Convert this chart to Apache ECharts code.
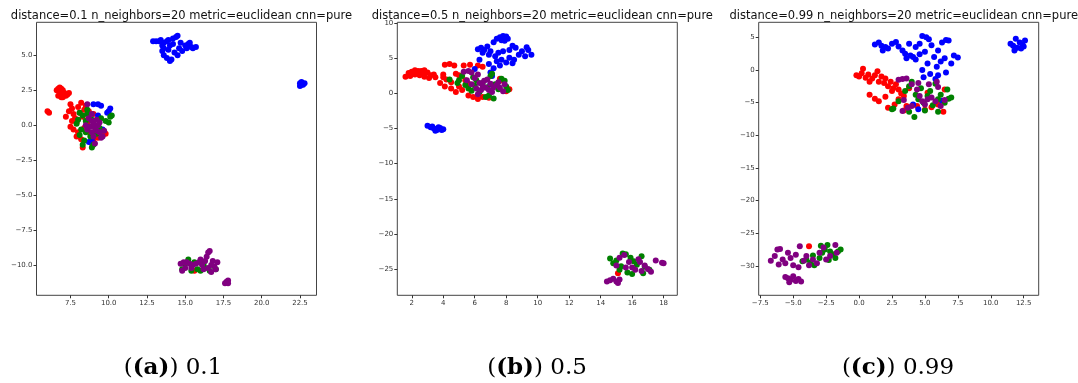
<!DOCTYPE html>
<html><head><meta charset="utf-8">
<script src="https://cdn.jsdelivr.net/npm/echarts@6/dist/echarts.min.js"></script>
<style>html,body{margin:0;padding:0;background:#fff}#c{width:1078px;height:383px}</style>
</head><body><div id="c"></div>
<script>
// ---------- Titles & captions ----------
const titles = [
  "distance=0.1 n_neighbors=20 metric=euclidean cnn=pure",
  "distance=0.5 n_neighbors=20 metric=euclidean cnn=pure",
  "distance=0.99 n_neighbors=20 metric=euclidean cnn=pure"
];
const captionLetters = ["(a)", "(b)", "(c)"];
const captionValues = ["0.1", "0.5", "0.99"];

// ---------- Tick labels ----------
const aXTicks = [7.5, 10.0, 12.5, 15.0, 17.5, 20.0, 22.5];
const aYTicks = [5.0, 2.5, 0.0, -2.5, -5.0, -7.5, -10.0];
const bXTicks = [2, 4, 6, 8, 10, 12, 14, 16, 18];
const bYTicks = [10, 5, 0, -5, -10, -15, -20, -25];
const cXTicks = [-7.5, -5.0, -2.5, 0.0, 2.5, 5.0, 7.5, 10.0, 12.5];
const cYTicks = [5, 0, -5, -10, -15, -20, -25, -30];

// ---------- Series colours ----------
const classNames = ["red", "blue", "green", "purple"];
const classColors = ["#ff0000", "#0000ff", "#008000", "#800080"];

// ---------- (a) distance = 0.1 ----------
const aRed = [[6.7,2.6],[6.8,2.7],[6.9,2.6],[7.0,2.5],[6.8,2.4],[7.1,2.3],[6.9,2.2],[7.2,2.1],[6.7,2.1],[7.0,2.0],[7.3,2.2],[6.6,2.5],[7.4,2.3],[6.9,2.0],
  [6.0,1.0],[6.1,0.9],
  [7.5,1.5],[7.6,1.2],[7.4,1.0],[7.7,0.8],[7.8,0.5],[7.6,0.3],[7.9,0.2],[7.5,-0.1],[7.7,-0.3],[8.0,-0.5],[7.9,-0.8],[8.2,-1.0],[8.3,-1.6],[8.1,0.9],[8.4,1.1],[8.2,1.6],[8.5,1.4],[8.3,0.6],[8.6,0.2],[8.4,-0.2],[8.8,-0.6],[9.0,-1.0],[9.3,-0.9],[9.6,-0.7],[9.8,-0.6],[8.7,1.0],[9.0,0.8],[7.2,0.6],[8.0,1.3],[8.9,-1.3],
  [15.6,-10.4]];
const aBlue = [[9.0,1.5],[9.3,1.5],[9.5,1.4],[10.0,1.0],[10.1,1.2],[9.9,0.9],[9.3,0.7],[8.9,-1.1],[8.7,-1.2],[9.6,-0.3],
  [12.9,6.0],[13.1,6.0],[13.3,6.0],[13.4,6.1],[13.6,5.9],[13.8,6.0],[13.9,6.1],[14.2,6.2],[14.4,6.3],[14.5,6.4],[13.5,5.7],[13.6,5.5],[13.5,5.3],[13.6,5.0],[13.8,4.8],[14.0,4.6],[14.1,4.7],[13.9,5.4],[14.0,5.7],[14.3,5.2],[14.5,5.0],[14.6,5.5],[14.2,5.8],[14.7,5.9],[15.0,5.7],[15.2,5.8],[15.4,5.6],[15.5,5.5],[15.7,5.6],[15.1,5.5],[14.8,5.3],[15.3,5.9],
  [22.5,3.0],[22.6,2.9],[22.7,2.9],[22.5,2.8],[22.8,3.0],[22.6,3.1]];
const aGreen = [[8.1,0.9],[8.3,0.7],[8.6,0.8],[8.0,0.4],[8.5,0.3],[8.2,-0.3],[8.7,-0.1],[8.1,-0.7],[8.5,-0.5],[8.4,-1.1],[8.3,-1.4],[8.9,-1.6],[9.0,-1.4],[9.2,-0.6],[9.5,0.5],[9.8,0.3],[10.1,0.6],[10.2,0.7],[10.0,0.2],[9.4,-0.2],[8.9,0.4],[8.8,-0.8],[7.9,0.1],[8.6,1.1],
  [14.8,-10.3],[15.0,-9.9],[15.2,-9.6],[15.4,-10.4],[15.8,-10.3],[16.0,-10.4],[16.3,-10.2],[16.6,-10.4],[17.0,-10.3],[15.6,-9.8],[16.2,-9.9]];
const aPurple = [[8.6,1.5],[8.9,0.8],[8.7,0.5],[8.9,0.3],[9.0,0.1],[8.8,-0.1],[9.1,-0.2],[9.2,-0.4],[8.9,-0.5],[9.3,0.0],[9.4,-0.5],[9.0,-0.8],[9.6,-0.8],[9.7,-0.4],[8.6,-0.3],[9.1,-1.3],[9.2,0.4],[8.5,0.0],[9.5,-0.9],[9.4,0.2],
  [14.7,-9.9],[14.9,-9.8],[15.1,-9.8],[15.3,-9.9],[15.5,-10.0],[15.7,-9.9],[15.9,-9.8],[16.1,-10.0],[16.3,-9.7],[16.4,-9.4],[16.5,-9.1],[16.6,-9.0],[16.5,-10.2],[16.7,-10.0],[16.9,-10.1],[17.1,-9.8],[17.0,-10.3],[16.7,-10.5],[16.2,-10.3],[15.0,-10.2],[14.8,-10.4],[15.4,-10.2],[16.0,-9.6],[16.8,-9.7],
  [17.7,-11.2],[17.8,-11.1],[17.6,-11.3],[17.8,-11.3]];

// ---------- (b) distance = 0.5 ----------
const bRed = [[1.6,2.4],[1.8,2.9],[2.0,3.1],[2.2,3.3],[2.4,3.2],[2.6,3.2],[2.8,3.3],[3.0,3.0],[3.2,2.6],[3.1,2.2],[2.8,2.4],[2.5,2.6],[2.2,2.7],[1.9,2.5],[2.3,2.9],[2.7,2.9],
  [4.0,2.7],[4.0,2.3],[3.5,2.3],[4.2,2.0],[4.5,1.6],[4.8,2.8],[5.0,2.6],[4.5,0.7],[4.8,0.2],[5.0,1.0],[5.2,0.5],[5.4,1.9],[5.6,1.4],[5.9,-0.5],[6.2,-0.8],[6.5,-0.5],[4.1,4.1],[4.4,4.2],[4.7,4.0],[5.3,4.0],[5.7,4.1],[6.2,4.0],[6.5,3.8],[7.6,2.1],[7.8,1.8],[8.0,0.3],[8.2,0.6],[6.9,-0.6],[3.8,1.5],[5.6,-0.3],[3.4,2.7],[4.1,1.0],
  [15.1,-25.6]];
const bBlue = [[6.2,6.3],[6.4,6.5],[6.6,6.2],[6.8,6.7],[6.5,5.8],[6.9,5.5],[7.0,6.0],[7.2,7.3],[7.4,7.8],[7.6,8.0],[7.8,8.2],[8.0,8.1],[7.7,7.6],[7.9,7.5],[8.1,7.8],[7.3,5.3],[7.5,5.8],[7.8,6.0],[8.2,6.2],[8.4,6.8],[8.6,6.5],[8.2,5.1],[8.5,4.8],[8.8,5.5],[9.0,6.0],[9.3,6.6],[9.4,6.2],[9.6,5.5],[9.2,5.3],[8.0,4.4],[7.6,4.0],[7.2,3.6],[7.0,3.0],[7.1,2.5],[6.9,4.2],[6.3,4.8],[7.4,4.6],[7.7,4.8],[8.4,4.3],[6.0,3.5],[7.0,1.3],
  [3.0,-4.6],[3.2,-4.8],[3.4,-5.0],[3.6,-5.2],[3.8,-4.9],[4.0,-5.1],[3.5,-5.3],[3.9,-5.2],[3.3,-4.7],[3.7,-4.8]];
const bGreen = [[4.4,2.0],[4.9,1.5],[5.0,1.9],[5.2,2.5],[5.4,1.2],[5.6,0.7],[5.8,0.4],[6.0,1.1],[6.1,1.9],[6.3,0.2],[6.5,1.5],[6.7,-0.5],[6.9,-0.3],[7.0,2.5],[7.1,2.8],[7.3,1.3],[7.5,0.6],[7.7,2.1],[7.9,1.8],[8.0,1.0],[8.1,0.5],[7.2,-0.7],[6.8,0.9],[5.9,2.3],
  [14.6,-23.5],[14.8,-24.2],[15.0,-23.8],[15.3,-24.6],[15.4,-22.8],[15.6,-22.9],[15.9,-23.4],[16.1,-23.9],[16.3,-24.4],[16.6,-23.2],[16.8,-24.7],[17.1,-25.1],[15.7,-25.5],[16.0,-25.7],[16.7,-25.6],[15.2,-25.1]];
const bPurple = [[5.3,3.1],[5.6,3.2],[5.8,3.0],[6.2,2.7],[6.0,2.2],[6.3,1.5],[6.5,1.1],[6.7,0.8],[6.9,0.5],[6.4,0.5],[6.6,1.8],[7.0,1.4],[7.2,0.9],[7.4,1.2],[7.6,0.8],[7.8,0.3],[7.9,1.3],[6.1,0.7],[5.8,1.3],[7.1,0.2],[6.8,2.0],[7.5,1.6],[6.2,-0.1],[5.5,1.9],
  [14.6,-26.6],[14.8,-26.4],[15.0,-26.8],[15.2,-26.5],[14.4,-26.8],[15.1,-27.0],[15.0,-24.5],[15.2,-23.4],[15.5,-23.0],[15.8,-24.0],[16.0,-24.8],[16.2,-25.1],[16.4,-23.6],[16.6,-25.3],[16.8,-24.5],[17.0,-25.0],[17.2,-25.4],[17.5,-23.8],[17.9,-24.1],[18.0,-24.2],[15.6,-24.8],[16.5,-24.0]];

// ---------- (c) distance = 0.99 ----------
const cRed = [[-0.2,-0.8],[0.0,-1.0],[0.2,-0.5],[0.3,0.2],[0.5,-1.2],[0.7,-0.7],[0.8,-1.8],[1.0,-1.3],[1.2,-0.8],[1.4,-0.2],[1.5,-1.8],[1.7,-1.0],[1.9,-2.0],[2.0,-1.3],[2.2,-2.5],[2.4,-1.8],[2.6,-2.8],[2.8,-2.2],[3.0,-3.0],[3.2,-3.6],[2.5,-3.2],[3.4,-4.0],[3.0,-4.5],[2.7,-5.3],[2.2,-5.8],[3.4,-6.2],[3.6,-5.5],[0.8,-3.8],[1.2,-4.4],[1.5,-4.8],[2.0,-4.1],[4.4,-5.5],[5.0,-6.1],[5.5,-5.7],[6.0,-5.3],[6.4,-6.4],[5.2,-3.5],[6.5,-3.0],[3.8,-2.8],
  [-3.8,-27.0]];
const cBlue = [[1.2,3.9],[1.5,4.2],[1.7,3.7],[2.0,3.5],[2.2,3.3],[1.8,3.0],[2.5,4.0],[2.8,4.3],[3.0,3.6],[3.3,3.0],[3.5,2.5],[3.6,1.8],[3.9,2.2],[4.1,2.0],[3.8,4.0],[4.3,3.5],[4.6,4.0],[4.8,5.2],[5.1,5.0],[5.3,4.7],[5.5,3.8],[5.0,2.8],[4.6,2.4],[5.7,2.0],[6.0,3.0],[6.3,4.2],[6.6,4.6],[6.8,4.5],[6.2,1.3],[6.5,1.8],[7.0,1.0],[7.2,2.2],[7.5,1.9],[5.2,1.0],[4.8,0.0],[5.4,-0.6],[6.0,-0.8],[5.8,-1.4],[4.9,-1.1],[6.6,-0.4],[4.3,1.6],[5.9,0.5],
  [11.5,4.0],[11.7,3.7],[11.9,4.8],[12.0,3.4],[12.2,4.2],[12.4,3.9],[12.6,4.5],[12.3,3.3],[11.8,3.0],[12.5,3.6],
  [4.1,-5.3],[6.3,-4.7],[4.5,-6.0]];
const cGreen = [[2.5,-6.0],[2.6,-5.9],[3.0,-4.8],[3.5,-3.2],[3.8,-2.5],[4.0,-1.8],[4.3,-3.8],[4.5,-4.5],[4.7,-2.8],[4.9,-5.0],[5.2,-4.0],[5.4,-3.2],[5.6,-5.4],[5.8,-2.1],[6.0,-4.5],[6.2,-3.8],[6.5,-5.0],[6.8,-4.4],[7.0,-4.2],[6.7,-3.0],[4.2,-7.2],[3.8,-6.4],[5.0,-6.2],[6.0,-6.4],
  [-4.3,-29.3],[-4.0,-29.0],[-3.7,-29.5],[-3.4,-29.9],[-3.0,-28.8],[-2.8,-28.0],[-2.6,-27.5],[-2.4,-26.8],[-2.2,-27.8],[-2.0,-28.2],[-1.8,-28.8],[-1.6,-27.8],[-1.4,-27.5],[-3.5,-28.4],[-2.9,-26.9],[-2.3,-29.1]];
const cPurple = [[3.0,-1.5],[3.3,-1.4],[3.6,-1.3],[4.0,-2.2],[4.4,-3.0],[4.6,-4.0],[4.8,-4.8],[5.0,-5.3],[5.2,-4.5],[5.5,-4.2],[5.8,-4.8],[6.0,-2.6],[6.2,-5.5],[6.5,-4.6],[3.3,-6.3],[3.7,-5.8],[4.0,-5.5],[5.3,-2.2],[4.5,-2.0],[3.4,-4.6],[5.9,-1.8],
  [-6.7,-29.2],[-6.4,-28.5],[-6.2,-27.5],[-6.0,-27.4],[-5.8,-29.0],[-5.6,-29.6],[-5.4,-28.0],[-5.2,-28.8],[-5.0,-29.9],[-4.8,-28.3],[-4.5,-27.0],[-4.2,-29.2],[-4.0,-28.5],[-3.5,-29.0],[-3.0,-28.0],[-2.7,-27.2],[-2.5,-29.0],[-2.2,-28.5],[-1.8,-26.8],[-1.7,-28.0],[-3.8,-29.9],[-4.6,-30.2],[-5.6,-31.7],[-5.4,-31.9],[-5.2,-32.1],[-5.0,-31.6],[-4.8,-32.3],[-4.6,-32.0],[-4.4,-32.4],[-5.3,-32.5],[-6.1,-29.8],[-3.2,-29.6]];

// ---------- Build chart ----------
const panels = [
  {data:[aRed,aBlue,aGreen,aPurple], xr:[5.28,23.58], yr:[-12.16,7.36], xt:aXTicks, yt:aYTicks, xd:1, yd:1, left:36.5, cap:168},
  {data:[bRed,bBlue,bGreen,bPurple], xr:[1.08,18.87], yr:[-28.75,10.14], xt:bXTicks, yt:bYTicks, xd:0, yd:0, left:397.3, cap:532},
  {data:[cRed,cBlue,cGreen,cPurple], xr:[-7.62,13.64], yr:[-34.5,7.3], xt:cXTicks, yt:cYTicks, xd:1, yd:0, left:758.7, cap:893}
];
const gridW = 280, gridTop = 22.3, gridH = 273;
const fmt = d => v => (d ? v.toFixed(d) : String(Math.round(v))).replace('-', '\u2212');
const tickFont = {fontFamily:'DejaVu Sans', fontSize:7, color:'#333'};

const grid = [], xAxis = [], yAxis = [], series = [], title = [];
panels.forEach((p, i) => {
  grid.push({left:p.left, top:gridTop, width:gridW, height:gridH, show:true, borderColor:'#444', borderWidth:1, backgroundColor:'#fff'});
  xAxis.push({type:'value', gridIndex:i, position:'bottom', min:p.xr[0], max:p.xr[1], splitLine:{show:false},
    axisLine:{show:false, onZero:false}, axisTick:{show:true, length:3, customValues:p.xt, lineStyle:{color:'#333'}},
    axisLabel:Object.assign({customValues:p.xt, formatter:fmt(p.xd), margin:4}, tickFont)});
  yAxis.push({type:'value', gridIndex:i, position:'left', min:p.yr[0], max:p.yr[1], splitLine:{show:false},
    axisLine:{show:false, onZero:false}, axisTick:{show:true, length:3, customValues:p.yt, lineStyle:{color:'#333'}},
    axisLabel:Object.assign({customValues:p.yt, formatter:fmt(p.yd), margin:4}, tickFont)});
  p.data.forEach((d, k) => series.push({type:'scatter', name:classNames[k], xAxisIndex:i, yAxisIndex:i, data:d,
    symbolSize:6, itemStyle:{color:classColors[k], opacity:1}, silent:true}));
  title.push({text:titles[i], left:p.left + gridW/2, top:5, textAlign:'center',
    textStyle:{fontFamily:'DejaVu Sans', fontSize:11.5, fontWeight:'normal', color:'#111'}});
  title.push({text:'{n|(}{b|' + captionLetters[i] + '}{n|) ' + captionValues[i] + '}', left:p.cap, top:352, textAlign:'center',
    textStyle:{fontWeight:'normal', rich:{n:{fontFamily:'DejaVu Serif', fontSize:23, fontWeight:'normal', color:'#000'}, b:{fontFamily:'DejaVu Serif', fontSize:23, fontWeight:'bold', color:'#000'}}}});
});

const chart = echarts.init(document.getElementById('c'), null, {renderer:'canvas'});
chart.setOption({animation:false, backgroundColor:'#fff', title, grid, xAxis, yAxis, series});
</script></body></html>
